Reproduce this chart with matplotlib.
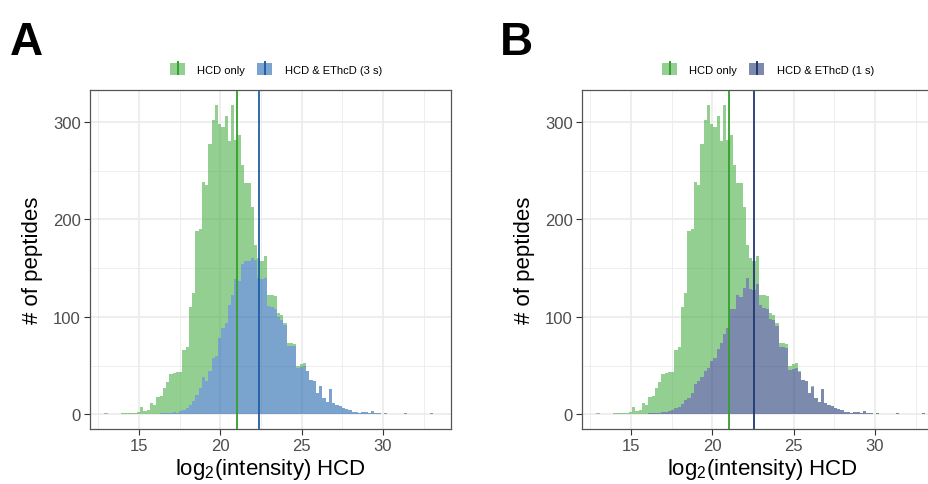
import numpy as np
import matplotlib.pyplot as plt
from matplotlib.patches import Patch
from matplotlib.lines import Line2D
from matplotlib.legend_handler import HandlerTuple

plt.rcParams['font.family'] = ['Liberation Sans', 'DejaVu Sans']
plt.rcParams['mathtext.fontset'] = 'custom'
plt.rcParams['mathtext.rm'] = 'Liberation Sans'
plt.rcParams['mathtext.it'] = 'Liberation Sans:italic'

# histogram bins of log2(intensity) HCD
bin_start = 12.87
bin_width = 0.2

# all HCD-identified peptides per bin (top of the stacked bars, same for A and B)
hcd_total = [1, 0, 0, 0, 0, 1, 1, 1, 2, 2,
             3, 8, 4, 5, 12, 10, 18, 19, 27, 33,
             42, 43, 44, 44, 66, 69, 110, 125, 188, 190,
             238, 235, 277, 302, 317, 298, 295, 306, 280, 317,
             281, 287, 256, 237, 237, 213, 174, 160, 157, 162,
             123, 122, 121, 104, 102, 94, 73, 73, 72, 50,
             52, 53, 45, 35, 34, 22, 29, 17, 13, 26,
             12, 10, 9, 7, 6, 5, 3, 3, 2, 3,
             3, 2, 4, 1, 1, 0, 2, 0, 0, 0,
             0, 0, 1, 0, 0, 0, 0, 0, 0, 0,
             1, 0]

# peptides also identified by HCD & EThcD (3 s)
ethcd_3s = [0, 0, 0, 0, 0, 0, 0, 0, 0, 0,
            0, 0, 0, 0, 0, 0, 0, 1, 1, 2,
            2, 3, 2, 4, 5, 7, 10, 14, 20, 27,
            38, 34, 45, 58, 60, 78, 89, 94, 112, 122,
            139, 137, 154, 157, 157, 160, 158, 140, 139, 140,
            111, 110, 108, 100, 97, 92, 70, 70, 70, 48,
            49, 50, 45, 35, 34, 22, 29, 17, 13, 26,
            12, 10, 9, 7, 6, 5, 3, 3, 2, 3,
            3, 2, 4, 1, 1, 0, 2, 0, 0, 0,
            0, 0, 1, 0, 0, 0, 0, 0, 0, 0,
            1, 0]

# peptides also identified by HCD & EThcD (1 s)
ethcd_1s = [0, 0, 0, 0, 0, 0, 0, 0, 0, 0,
            0, 0, 0, 0, 0, 0, 1, 1, 2, 2,
            3, 3, 4, 5, 7, 8, 11, 15, 17, 22,
            31, 34, 38, 45, 48, 55, 58, 67, 73, 83,
            89, 108, 108, 122, 120, 130, 140, 129, 128, 134,
            112, 109, 108, 98, 97, 91, 69, 69, 68, 46,
            47, 48, 44, 35, 34, 22, 28, 17, 13, 26,
            12, 10, 9, 7, 6, 5, 3, 3, 2, 3,
            3, 2, 4, 1, 1, 0, 2, 0, 0, 0,
            0, 0, 1, 0, 0, 0, 0, 0, 0, 0,
            1, 0]

# medians shown as vertical lines
median_hcd = [21.04, 21.02]
median_ethcd = [22.39, 22.56]

panel_labels = ['A', 'B']
ethcd_labels = ['HCD & EThcD (3 s)', 'HCD & EThcD (1 s)']
ethcd_fill = ['#2166AC', '#253C78']
ethcd_line = ['#1F5FA8', '#22386E']
green_fill = '#4DAF4A'
green_line = '#33A02C'

edges = bin_start + bin_width * np.arange(len(hcd_total) + 1)

fig = plt.figure(figsize=(9.29, 4.85), dpi=100)

lefts = [90 / 929, 582 / 929]
label_x = [10 / 929, 500 / 929]

for i, ethcd in enumerate([ethcd_3s, ethcd_1s]):
    ax = fig.add_axes([lefts[i], 55 / 485, 361 / 929, 339 / 485])
    ax.set_axisbelow(True)

    ax.stairs(ethcd, edges, baseline=0, fill=True, color=ethcd_fill[i],
              alpha=0.6, lw=0)
    ax.stairs(hcd_total, edges, baseline=ethcd, fill=True, color=green_fill,
              alpha=0.6, lw=0)

    ax.axvline(median_hcd[i], color=green_line, lw=1.3)
    ax.axvline(median_ethcd[i], color=ethcd_line[i], lw=1.3)

    ax.set_xlim(11.99, 34.18)
    ax.set_ylim(-14.9, 332.7)
    ax.set_xticks([15, 20, 25, 30])
    ax.set_xticks([12.5, 17.5, 22.5, 27.5, 32.5], minor=True)
    ax.set_yticks([0, 100, 200, 300])
    ax.set_yticks([50, 150, 250], minor=True)
    ax.grid(which='major', color='#EBEBEB', lw=1.2)
    ax.grid(which='minor', color='#EBEBEB', lw=0.6)
    ax.tick_params(which='major', length=4, width=0.8, color='#333333',
                   labelsize=12, labelcolor='#4D4D4D', pad=2.5)
    ax.tick_params(which='minor', length=0)
    for s in ax.spines.values():
        s.set_color('#555555')
        s.set_linewidth(0.9)

    ax.set_xlabel(r'log$_2$(intensity) HCD', fontsize=16, labelpad=2)
    ax.set_ylabel('# of peptides', fontsize=16, labelpad=7)

    handles = [
        (Patch(facecolor=green_fill, alpha=0.6, edgecolor='none'),
         Line2D([], [], color=green_line, marker='|', ls='None',
                markersize=10, mew=1.4)),
        (Patch(facecolor=ethcd_fill[i], alpha=0.6, edgecolor='none'),
         Line2D([], [], color=ethcd_line[i], marker='|', ls='None',
                markersize=10, mew=1.4)),
    ]
    ax.legend(handles, ['HCD only', ethcd_labels[i]],
              handler_map={tuple: HandlerTuple(ndivide=1)},
              loc='center', bbox_to_anchor=(0.515, 1.062), ncol=2,
              frameon=False, fontsize=8, handlelength=1.35, handleheight=1.2,
              handletextpad=1.1, columnspacing=1.1, borderaxespad=0)

    fig.text(label_x[i], 1 - 55 / 485, panel_labels[i], fontsize=33,
             fontweight='bold', va='baseline', ha='left')

fig.savefig('out.png', dpi=100)
